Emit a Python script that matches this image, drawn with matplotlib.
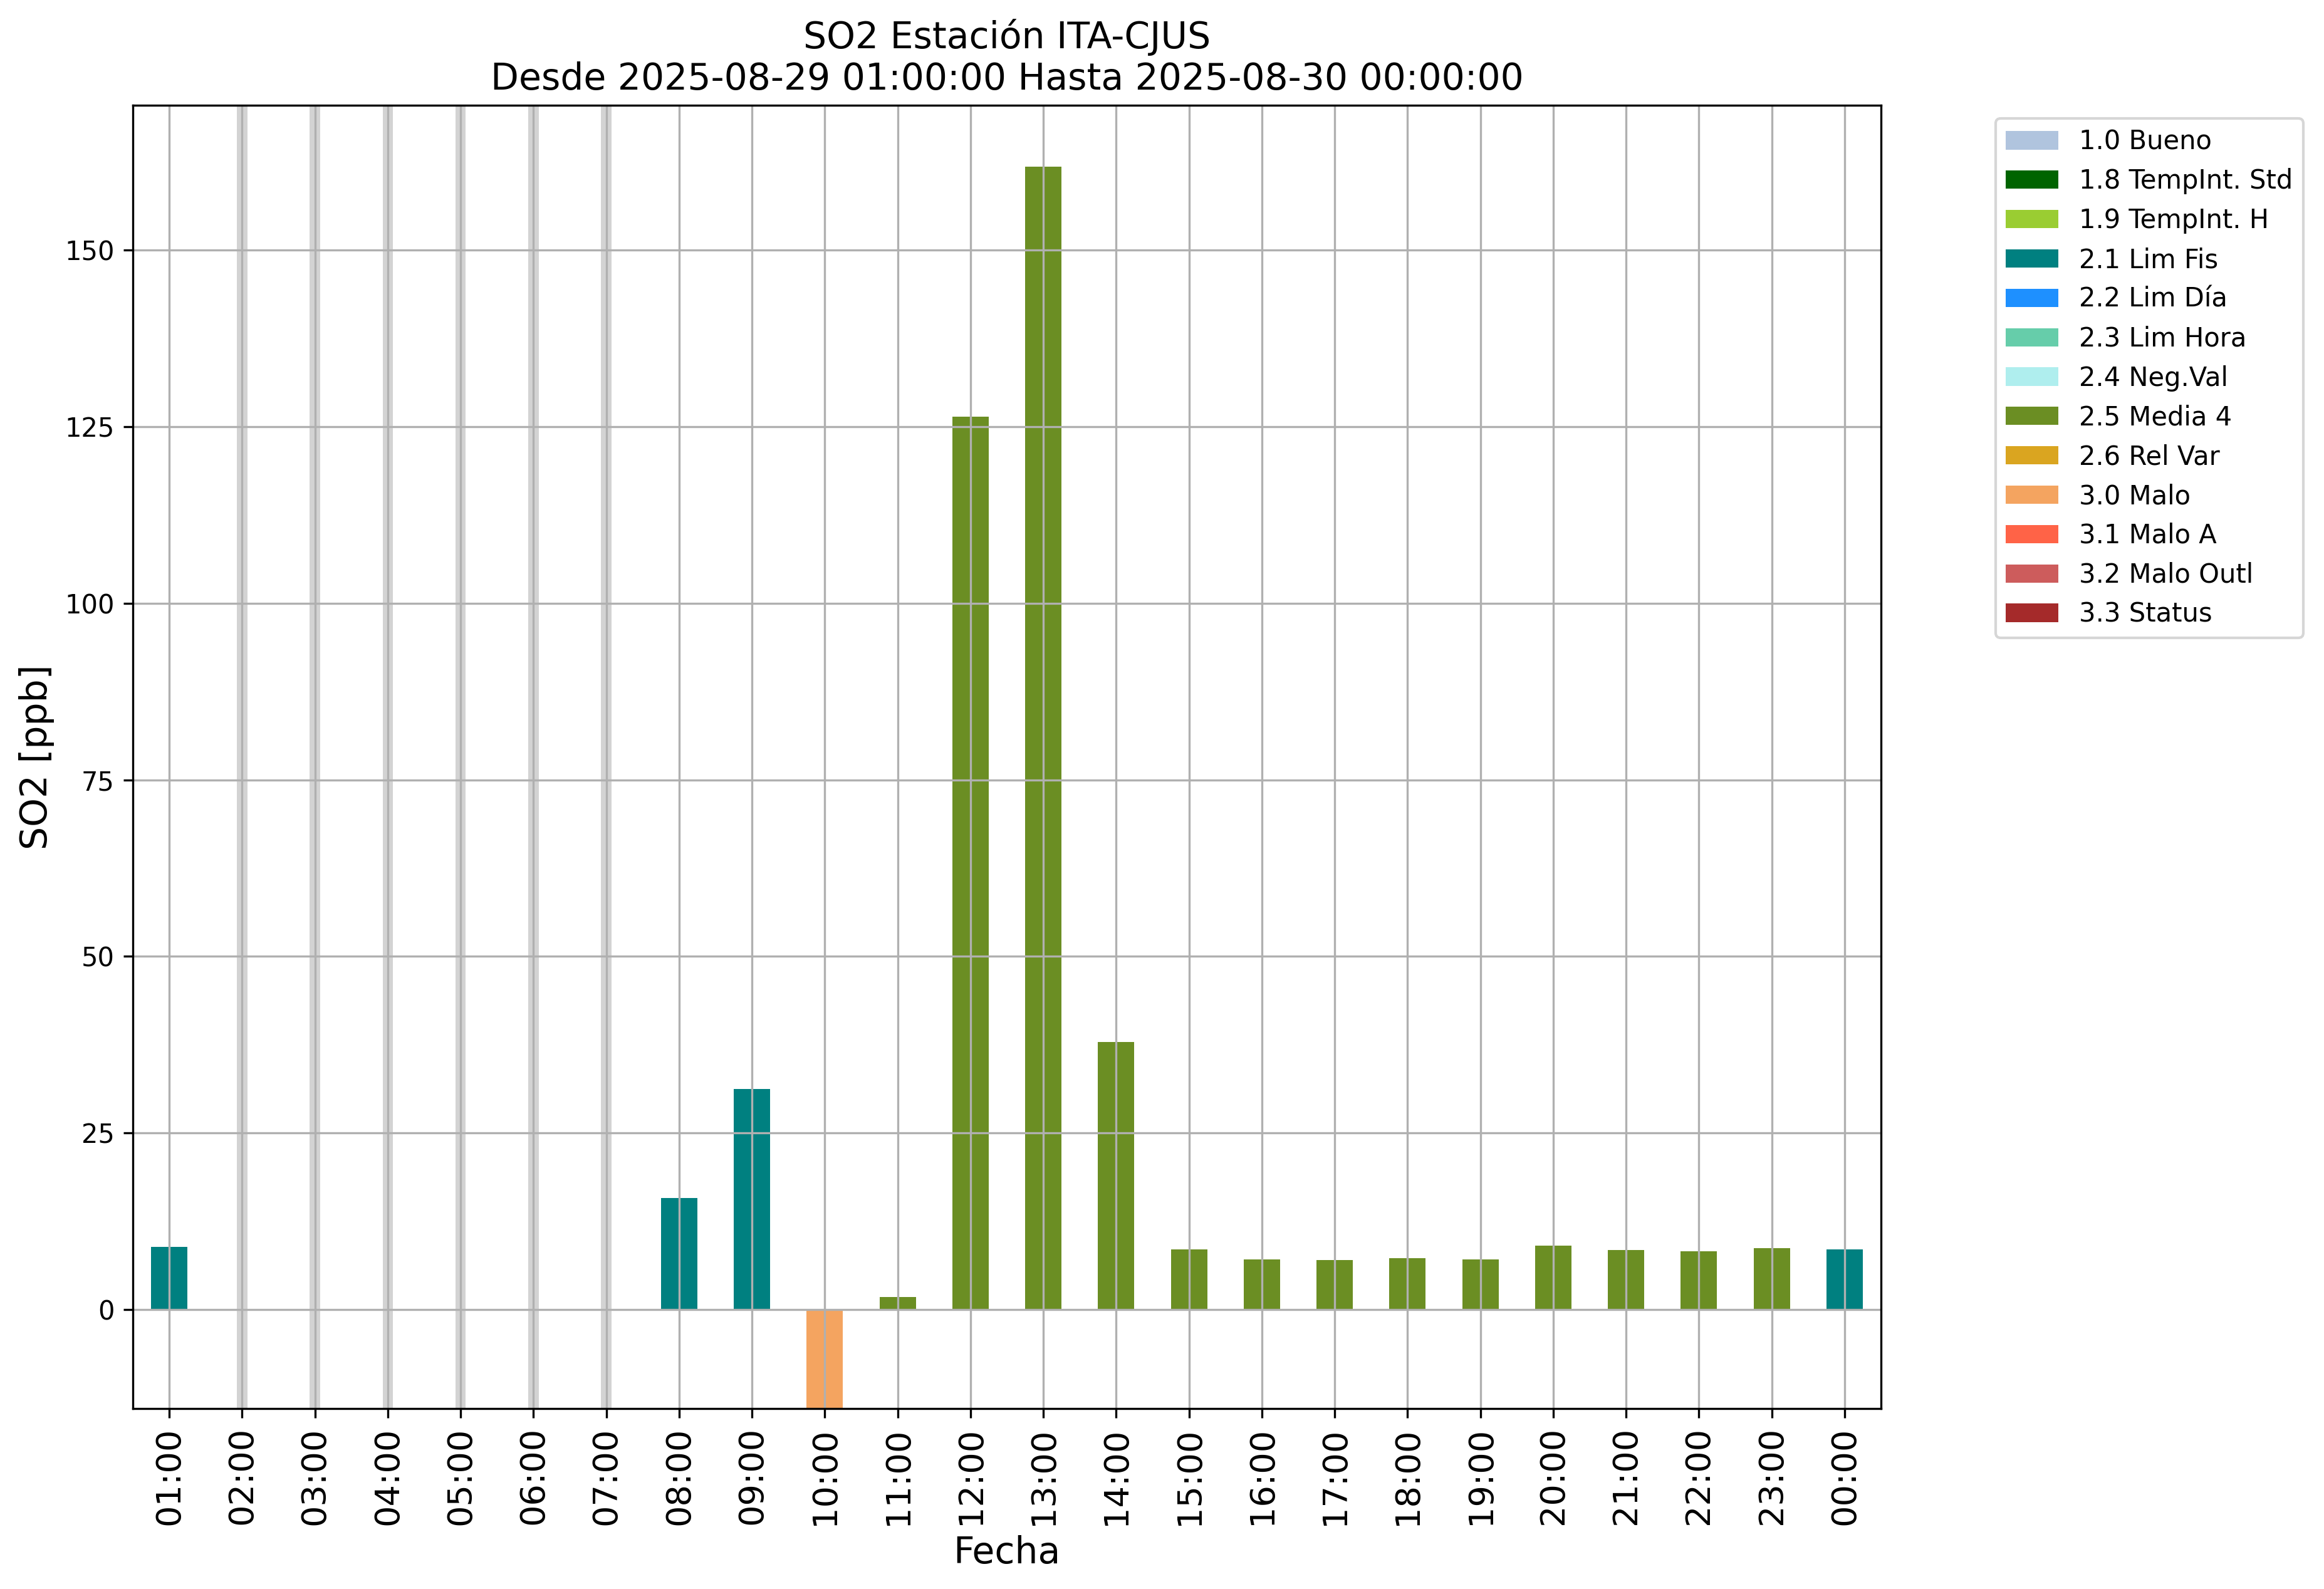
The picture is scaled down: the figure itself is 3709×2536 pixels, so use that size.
import numpy as np
import matplotlib
matplotlib.use("Agg")
import matplotlib.pyplot as plt
from matplotlib.patches import Patch

hours = ["01:00", "02:00", "03:00", "04:00", "05:00", "06:00", "07:00", "08:00",
         "09:00", "10:00", "11:00", "12:00", "13:00", "14:00", "15:00", "16:00",
         "17:00", "18:00", "19:00", "20:00", "21:00", "22:00", "23:00", "00:00"]
so2 = [8.9, np.nan, np.nan, np.nan, np.nan, np.nan, np.nan, 15.8,
       31.2, -20.0, 1.8, 126.4, 161.8, 37.9, 8.5, 7.1,
       7.0, 7.3, 7.1, 9.1, 8.4, 8.3, 8.7, 8.5]
flags = ["2.1", None, None, None, None, None, None, "2.1",
         "2.1", "3.0", "2.5", "2.5", "2.5", "2.5", "2.5", "2.5",
         "2.5", "2.5", "2.5", "2.5", "2.5", "2.5", "2.5", "2.1"]

flag_codes = ["1.0", "1.8", "1.9", "2.1", "2.2", "2.3", "2.4", "2.5", "2.6",
              "3.0", "3.1", "3.2", "3.3"]
flag_names = ["1.0 Bueno", "1.8 TempInt. Std", "1.9 TempInt. H", "2.1 Lim Fis",
              "2.2 Lim Día", "2.3 Lim Hora", "2.4 Neg.Val", "2.5 Media 4",
              "2.6 Rel Var", "3.0 Malo", "3.1 Malo A", "3.2 Malo Outl", "3.3 Status"]
flag_colors = ["lightsteelblue", "darkgreen", "yellowgreen", "teal", "dodgerblue",
               "mediumaquamarine", "paleturquoise", "olivedrab", "goldenrod",
               "sandybrown", "tomato", "indianred", "brown"]
color_map = dict(zip(flag_codes, flag_colors))

fig = plt.figure(figsize=(3709 / 300, 2536 / 300), dpi=300)
ax = fig.add_axes([0.05716, 0.11356, 0.75223, 0.82019])

x = np.arange(len(hours))
vals = np.array(so2, dtype=float)
bar_colors = [color_map[f] if f is not None else "none" for f in flags]

for i, v in enumerate(vals):
    if np.isnan(v):
        ax.axvspan(i - 0.07, i + 0.07, color="lightgray", zorder=0.9, lw=0)

mask = ~np.isnan(vals)
ax.bar(x[mask], vals[mask], width=0.5,
       color=[c for c, m in zip(bar_colors, mask) if m], zorder=1)

ax.set_xlim(-0.5, len(hours) - 0.5)
ax.set_ylim(-14.0, 170.5)
ax.set_xticks(x)
ax.set_xticklabels(hours, rotation=90, fontsize=13)
ax.set_yticks([0, 25, 50, 75, 100, 125, 150])
ax.tick_params(axis="y", labelsize=10)
ax.grid(True)
ax.set_axisbelow("line")

ax.set_xlabel("Fecha", fontsize=14)
ax.set_ylabel("SO2 [ppb]", fontsize=14)
ax.set_title("SO2 Estación ITA-CJUS\nDesde 2025-08-29 01:00:00 Hasta 2025-08-30 00:00:00",
             fontsize=14)

handles = [Patch(facecolor=c, label=n) for c, n in zip(flag_colors, flag_names)]
ax.legend(handles=handles, bbox_to_anchor=(1.058, 1.0), loc="upper left", fontsize=10)

fig.savefig("out.png", dpi=300)
